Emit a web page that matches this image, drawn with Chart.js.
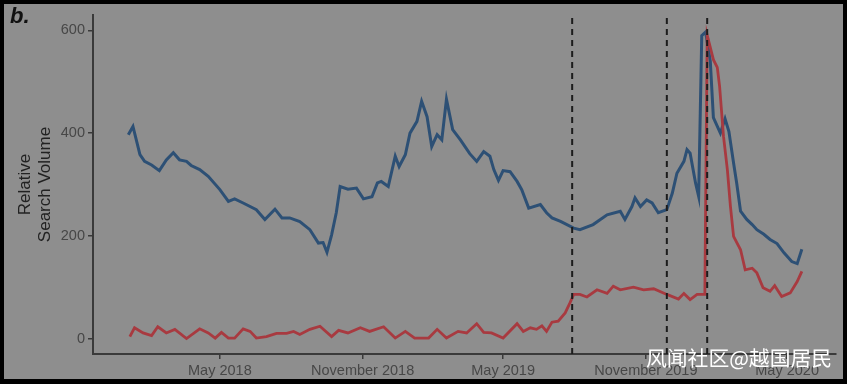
<!DOCTYPE html>
<html>
<head>
<meta charset="utf-8">
<script src="https://cdn.jsdelivr.net/npm/chart.js@4/dist/chart.umd.min.js"></script>
<style>
  body { margin: 0; background: #000; width: 847px; height: 384px; overflow: hidden; position: relative; }
  #frame { position: absolute; left: 4px; top: 4px; width: 839px; height: 375px; background: #8e8e8e; }
  #myChart { position: absolute; left: 0; top: 0; }
  #panel { position: absolute; left: 10px; top: 5px; font: italic bold 22px "Liberation Sans", Arial, sans-serif; line-height: 22px; color: #111; }
  #mark { position: absolute; left: 646px; top: 347px; font: 20.8px "Noto Sans CJK SC", sans-serif; line-height: 20px; color: #fff; white-space: nowrap; }
</style>
</head>
<body>
<div id="frame"></div>
<canvas id="myChart" width="847" height="384"></canvas>
<div id="panel">b.</div>
<div id="mark">风闻社区@越国居民</div>
<script>
// x values are days since 1 Jan 2018
var xTickDays = [120, 304, 485, 669, 851];
var xTickLabels = ["May 2018", "November 2018", "May 2019", "November 2019", "May 2020"];
var yTicks = [0, 200, 400, 600];
var eventDays = [574, 696, 748];

var blueDays = [2,8,17,23,32,42,51,60,68,77,83,94,105,120,131,139,150,167,178,191,200,210,223,236,247,253,258,264,270,275,285,296,305,316,323,328,337,346,351,359,365,374,380,387,393,400,406,412,420,430,442,451,460,468,473,479,485,494,503,509,518,533,541,548,559,576,584,601,619,636,642,651,655,662,670,677,685,696,703,709,718,722,726,733,737,741,746,752,756,765,771,776,782,786,791,799,806,812,821,829,838,847,857,864,870];
var blueValues = [397,413,358,345,338,327,348,362,348,345,337,329,316,290,267,272,264,251,232,252,235,235,228,212,186,187,168,202,245,296,291,293,272,276,303,306,296,355,335,358,400,423,462,432,374,397,387,466,407,387,360,345,364,355,329,308,327,325,306,290,254,261,245,235,228,215,212,222,241,248,232,257,274,257,270,264,245,251,283,322,345,368,361,303,277,590,597,540,430,400,428,403,342,303,248,232,222,212,203,193,185,167,150,146,174];

var redDays = [4,10,21,32,40,51,62,77,94,105,114,122,131,139,150,159,167,180,193,206,215,223,236,249,264,273,285,301,313,331,346,359,371,389,400,412,427,438,451,460,470,485,503,511,520,528,535,541,548,556,565,571,576,584,593,606,619,627,636,653,666,679,696,711,718,726,735,745,748,756,761,764,769,774,778,782,791,797,806,812,820,829,835,844,855,864,870];
var redValues = [4,21,11,6,23,11,18,0,19,11,1,12,1,1,19,14,1,4,10,10,14,8,18,24,4,16,11,21,14,23,1,14,1,1,18,1,14,11,29,12,11,1,29,14,21,18,25,14,32,34,50,69,86,86,81,95,88,102,95,100,95,97,86,77,88,76,86,86,591,543,528,491,394,329,257,199,173,134,137,128,99,92,103,82,89,111,131];

function toPoints(days, vals) {
  var pts = [];
  for (var i = 0; i < days.length; i++) {
    pts.push({x: days[i], y: vals[i]});
  }
  return pts;
}

var axisColor = "#3a3a3a";
var tickColor = "#474747";

// dashed event lines, drawn over the series
var eventLines = {
  id: "eventLines",
  afterDatasetsDraw: function(chart) {
    var ctx = chart.ctx;
    var xs = chart.scales.x;
    var area = chart.chartArea;
    ctx.save();
    ctx.strokeStyle = "#1c1c1c";
    ctx.lineWidth = 2;
    ctx.setLineDash([6, 5]);
    eventDays.forEach(function(d) {
      var px = xs.getPixelForValue(d);
      ctx.beginPath();
      ctx.moveTo(px, area.top + 3);
      ctx.lineTo(px, area.bottom);
      ctx.stroke();
    });
    ctx.restore();
  }
};

new Chart("myChart", {
  type: "line",
  data: {
    datasets: [{
      data: toPoints(redDays, redValues),
      borderColor: "#a83a40",
      borderWidth: 2.8,
      pointRadius: 0,
      tension: 0
    }, {
      data: toPoints(blueDays, blueValues),
      borderColor: "#2d5075",
      borderWidth: 3,
      pointRadius: 0,
      tension: 0
    }]
  },
  options: {
    responsive: false,
    animation: false,
    devicePixelRatio: 1,
    layout: { padding: { left: 0, top: 15, right: 11, bottom: 0 } },
    plugins: { legend: { display: false }, tooltip: { enabled: false } },
    scales: {
      x: {
        type: "linear",
        min: -43.5,
        max: 914,
        afterBuildTicks: function(axis) {
          axis.ticks = xTickDays.map(function(v) { return {value: v}; });
        },
        afterFit: function(s) { s.height = 30; },
        ticks: {
          autoSkip: false,
          maxRotation: 0,
          padding: 3,
          color: tickColor,
          font: { family: "Liberation Sans", size: 14.5 },
          callback: function(v) { return xTickLabels[xTickDays.indexOf(v)]; }
        },
        grid: { drawOnChartArea: false, tickLength: 5, color: axisColor, lineWidth: 1.5 },
        border: { color: axisColor, width: 2 }
      },
      y: {
        min: -30,
        max: 630,
        afterBuildTicks: function(axis) {
          axis.ticks = yTicks.map(function(v) { return {value: v}; });
        },
        afterFit: function(s) { s.width = 93; },
        ticks: {
          padding: 3,
          color: tickColor,
          font: { family: "Liberation Sans", size: 14.5 }
        },
        grid: { drawOnChartArea: false, tickLength: 5, color: axisColor, lineWidth: 1.5 },
        border: { color: axisColor, width: 2 },
        title: {
          display: true,
          text: ["Relative", "Search Volume"],
          color: "#222",
          font: { family: "Liberation Sans", size: 17 },
          padding: { top: 15, bottom: 0 }
        }
      }
    }
  },
  plugins: [eventLines]
});
</script>
</body>
</html>
